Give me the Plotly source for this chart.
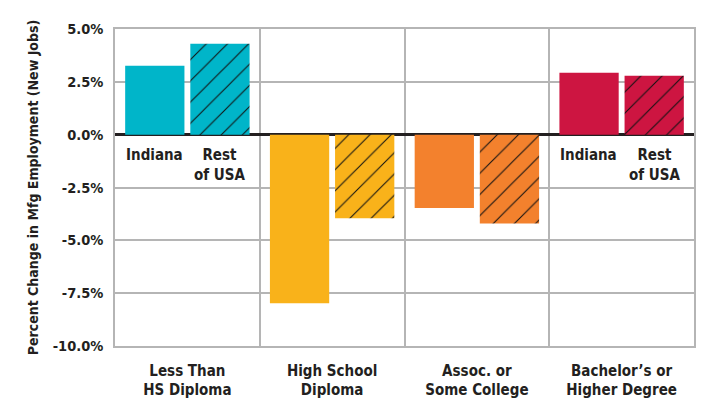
import plotly.graph_objects as go

categories = ["Less Than<br>HS Diploma", "High School<br>Diploma", "Assoc. or<br>Some College", "Bachelor’s or<br>Higher Degree"]
indiana = [3.26, -7.98, -3.47, 2.93]
rest_usa = [4.30, -3.96, -4.20, 2.79]
colors = ["#00B5C9", "#F9B21A", "#F3812D", "#CD1541"]
ytick_vals = [5, 2.5, 0, -2.5, -5, -7.5, -10]
ytick_text = ["5.0%", "2.5%", "0.0%", "-2.5%", "-5.0%", "-7.5%", "-10.0%"]
label_cats = [0, 3]

FONT = "DejaVu Sans Condensed, sans-serif"
TXT = "#231F20"
HATCH = "#111111"
xs = list(range(len(categories)))

fig = go.Figure()
fig.add_trace(go.Bar(
    x=xs, y=indiana, name="Indiana",
    marker=dict(color=colors, line=dict(width=0)),
    hoverinfo="y",
))
fig.add_trace(go.Bar(
    x=xs, y=rest_usa, name="Rest of USA",
    marker=dict(color=HATCH, line=dict(width=0),
                pattern=dict(shape="/", fgcolor=HATCH, bgcolor=colors, fgopacity=1,
                             size=15, solidity=0.07, fillmode="replace")),
    hoverinfo="y",
))

for c in label_cats:
    fig.add_annotation(x=c, y=0, xref="x", yref="y", text="<b>Indiana</b>",
                       showarrow=False, xshift=-33, yanchor="top", yshift=-9,
                       font=dict(family=FONT, size=15, color=TXT))
    fig.add_annotation(x=c, y=0, xref="x", yref="y", text="<b>Rest<br>of USA</b>",
                       showarrow=False, xshift=33, yanchor="top", yshift=-9,
                       font=dict(family=FONT, size=15, color=TXT))

fig.update_layout(
    width=702, height=399,
    margin=dict(l=115, r=8, t=29, b=53),
    paper_bgcolor="white", plot_bgcolor="white",
    showlegend=False,
    barmode="group", bargap=0.10, bargroupgap=0.09,
    font=dict(family=FONT, color=TXT),
)
fig.update_xaxes(
    range=[-0.5, 3.5], tickvals=xs, ticktext=["<b>%s</b>" % c for c in categories],
    tickfont=dict(family=FONT, size=15, color=TXT),
    showgrid=False, zeroline=False, automargin=False,
    showline=True, linecolor="#B5B5B5", linewidth=1.5, mirror=True,
    ticks="", ticklabelstandoff=10,
    minor=dict(tick0=-0.5, dtick=1, showgrid=True, gridcolor="#B5B5B5", gridwidth=1.5, ticks=""),
)
fig.update_yaxes(
    range=[-10, 5], tickvals=ytick_vals, ticktext=["<b>%s</b>" % t for t in ytick_text],
    tickfont=dict(family=FONT, size=14.5, color=TXT),
    showgrid=True, gridcolor="#B5B5B5", gridwidth=1.5, automargin=False,
    zeroline=True, zerolinecolor=TXT, zerolinewidth=3,
    showline=True, linecolor="#B5B5B5", linewidth=1.5, mirror=True,
    ticks="", ticklabelstandoff=7,
    title=dict(text="<b>Percent Change in Mfg Employment (New Jobs)</b>",
               font=dict(family=FONT, size=14, color=TXT), standoff=11),
)

fig.write_html("out.html")
